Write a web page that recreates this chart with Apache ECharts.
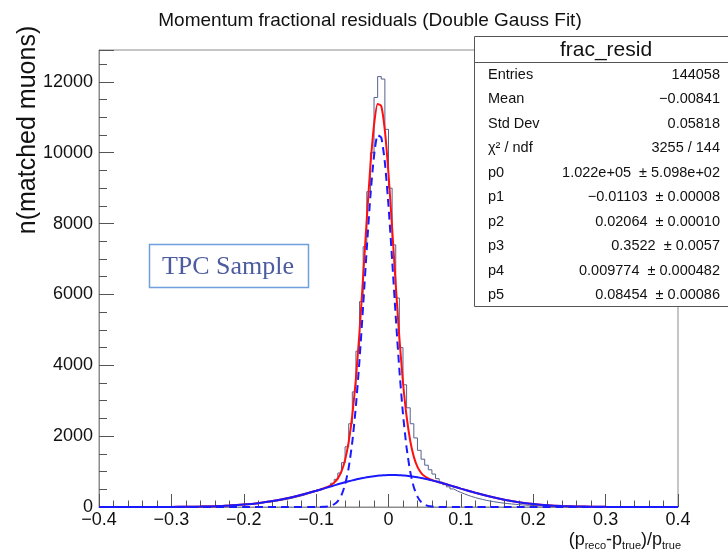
<!DOCTYPE html>
<html>
<head>
<meta charset="utf-8">
<script src="https://cdn.jsdelivr.net/npm/echarts@6/dist/echarts.min.js"></script>
<style>html,body{margin:0;padding:0;background:#fff}#c{width:728px;height:552px}</style>
</head>
<body>
<div id="c"></div>
<script>
// ---- data ----
const histMin = -0.4;
const binWidth = 0.005;
const histCounts = [
  0,1,0,1,1,2,1,2,2,3, 2,4,3,5,4,6,5,7,8,9,
  10,12,11,14,16,15,19,21,24,27, 30,33,37,41,46,50,56,62,68,75,
  80,88,97,107,117,128,140,152,166,182, 200,220,240,265,290,315,345,380,410,440,
  470,505,550,600,670,780,960,1250,1700,2350, 3250,4400,5800,7350,8900,10000,11560,12150,12080,10660,
  9000,7400,5900,4500,3450,2800,2350,1950,1600,1350, 1180,1050,930,800,700,630,570,510,455,410,
  370,330,296,265,238,213,190,170,152,136, 121,108,96,86,76,68,60,53,47,41,
  36,32,28,24,21,19,16,14,12,11, 9,8,7,6,6,5,4,4,3,3,
  3,2,2,2,1,2,1,1,1,1, 0,1,0,1,0,0,1,0,0,0
];
const fitX = [-0.40,-0.36,-0.32,-0.30,-0.28,-0.26,-0.24,-0.22,-0.20,-0.18,-0.16,-0.14,-0.12,-0.11,
  -0.100,-0.095,-0.090,-0.085,-0.080,-0.075,-0.070,-0.065,-0.060,-0.055,-0.050,-0.045,-0.040,-0.035,-0.030,-0.025,-0.020,-0.015,-0.010,-0.005,
  0.000,0.005,0.010,0.015,0.020,0.025,0.030,0.035,0.040,0.045,0.050,0.055,0.060,0.065,0.070,
  0.08,0.09,0.10,0.12,0.14,0.16,0.18,0.20,0.22,0.24,0.26,0.28,0.30,0.32,0.36,0.40];
const fitTotal = [0,0.2,1.3,2.9,6,12,22,40,68,109,168,247,345,400,
  459,490,524,563,613,688,807,1004,1328,1837,2591,3634,4962,6512,8136,9636,10782,11379,11322,10622,
  9408,7884,6277,4780,3522,2556,1869,1415,1132,965,866,805,763,730,699,
  640,579,518,400,294,205,137,87,52,30,16,8.5,4.2,2,0.4,0.1];
const fitNarrow = [0,0,0,0,0,0,0,0,0,0,0,0,0,0,
  0.7,2,5.5,14,34,78,167,335,631,1112,1840,2858,4163,5692,7297,8780,9911,10496,10430,9723,
  8504,6979,5373,3881,2630,1673,998,559,293,145,67,29,11.8,4.5,1.6,
  0.2,0,0,0,0,0,0,0,0,0,0,0,0,0,0,0];
const fitBroad = [0,0.2,1.3,2.9,6,12,22,40,68,109,168,247,345,400,
  458,488,518,549,579,610,640,669,697,725,751,776,799,820,839,856,871,883,892,899,
  904,905,904,899,892,883,871,856,839,820,799,776,751,725,697,
  640,579,518,400,294,205,137,87,52,30,16,8.5,4.2,2,0.4,0.1];
const yTicks = [0,2000,4000,6000,8000,10000,12000];
const statLabels = ['Entries','Mean','Std Dev','\u03C7\u00B2 / ndf','p0','p1','p2','p3','p4','p5'];
const statValues = ['144058','\u22120.00841','0.05818','3255 / 144','1.022e+05  \u00B1 5.098e+02',
  '\u22120.01103  \u00B1 0.00008','0.02064  \u00B1 0.00010','0.3522  \u00B1 0.0057',
  '0.009774  \u00B1 0.000482','0.08454  \u00B1 0.00086'];
const chartTitle = 'Momentum fractional residuals (Double Gauss Fit)';
const statTitle = 'frac_resid';
const sampleLabel = 'TPC Sample';
const yTitle = 'n(matched muons)';

// ---- build ----
const histData = histCounts.map((c, i) => [histMin + i * binWidth, c]);
histData.push([histMin + histCounts.length * binWidth, histCounts[histCounts.length - 1]]);
const pairs = arr => fitX.map((x, i) => [x, arr[i]]);

const FONT = '"Liberation Sans", Arial, sans-serif';
const chart = echarts.init(document.getElementById('c'), null, {renderer: 'canvas'});

const statGraphics = [];
statGraphics.push({type: 'rect', shape: {x: 474.5, y: 36.5, width: 270, height: 270},
  style: {fill: '#fff', stroke: '#555', lineWidth: 1}, z: 100});
statGraphics.push({type: 'line', shape: {x1: 474.5, y1: 62.5, x2: 728, y2: 62.5},
  style: {stroke: '#555', lineWidth: 1}, z: 101});
statGraphics.push({type: 'text', z: 101, style: {text: statTitle, x: 606, y: 50, font: '21px ' + FONT,
  fill: '#111', textAlign: 'center', textVerticalAlign: 'middle'}});
statLabels.forEach((l, i) => {
  const y = 74.5 + i * 24.5;
  statGraphics.push({type: 'text', z: 101, style: {text: l, x: 488, y: y, font: '14.5px ' + FONT,
    fill: '#111', textAlign: 'left', textVerticalAlign: 'middle'}});
  statGraphics.push({type: 'text', z: 101, style: {text: statValues[i], x: 720, y: y, font: '14.5px ' + FONT,
    fill: '#111', textAlign: 'right', textVerticalAlign: 'middle'}});
});

const option = {
  animation: false,
  backgroundColor: '#fff',
  title: {text: chartTitle, left: 365, top: 6, textAlign: 'center',
    textStyle: {fontFamily: FONT, fontSize: 19, fontWeight: 'normal', color: '#111'}},
  grid: {left: 99, right: 50, top: 50, bottom: 45, show: true, borderColor: '#8c8c8c', borderWidth: 1, backgroundColor: 'transparent'},
  xAxis: {
    type: 'value', min: -0.4, max: 0.4, interval: 0.1,
    axisLine: {show: true, onZero: false, lineStyle: {color: '#8c8c8c'}},
    axisTick: {show: true, inside: true, length: 13, lineStyle: {color: '#555'}},
    minorTick: {show: true, splitNumber: 5, length: 6.5, lineStyle: {color: '#555'}},
    splitLine: {show: false},
    axisLabel: {fontFamily: FONT, fontSize: 18, color: '#111', margin: 4,
      formatter: v => { const r = Math.round(v * 10) / 10; return r === 0 ? '0' : r.toFixed(1).replace('-', '\u2212'); }}
  },
  yAxis: {
    type: 'value', min: 0, max: 12900, interval: 2000,
    axisLine: {show: true, onZero: false, lineStyle: {color: '#8c8c8c'}},
    axisTick: {show: true, inside: true, length: 15, lineStyle: {color: '#555'}},
    minorTick: {show: true, splitNumber: 4, length: 8, lineStyle: {color: '#555'}},
    splitLine: {show: false},
    axisLabel: {fontFamily: FONT, fontSize: 18, color: '#111', margin: 6, showMaxLabel: false,
      formatter: v => (yTicks.indexOf(v) >= 0 ? String(v) : '')}
  },
  series: [
    {type: 'line', name: 'hist', data: histData, step: 'end', showSymbol: false,
      lineStyle: {color: '#55618f', width: 1}, z: 2},
    {type: 'line', name: 'total', data: pairs(fitTotal), showSymbol: false, smooth: 0.2,
      lineStyle: {color: '#ff1010', width: 2}, z: 3},
    {type: 'line', name: 'narrow', data: pairs(fitNarrow), showSymbol: false, smooth: 0.2,
      lineStyle: {color: '#1a1aff', width: 2, type: [8, 5]}, z: 4},
    {type: 'line', name: 'broad', data: pairs(fitBroad), showSymbol: false, smooth: 0.2,
      lineStyle: {color: '#1a1aff', width: 2}, z: 5}
  ],
  graphic: [
    {type: 'text', z: 50, rotation: Math.PI / 2, x: 28, y: 130,
      style: {text: yTitle, font: '25px ' + FONT, fill: '#111', textAlign: 'center', textVerticalAlign: 'middle'}},
    {type: 'rect', z: 50, shape: {x: 149.5, y: 244.5, width: 159, height: 43},
      style: {fill: '#fff', stroke: '#6f9fdc', lineWidth: 1.5}},
    {type: 'text', z: 51, style: {text: sampleLabel, x: 228, y: 267, font: '26px "Liberation Serif", "Times New Roman", serif',
      fill: '#4c5c9e', textAlign: 'center', textVerticalAlign: 'middle'}},
    {type: 'text', z: 50, style: {
      text: '(p{s|reco}-p{s|true})/p{s|true}', x: 681, y: 540, textAlign: 'right', textVerticalAlign: 'middle',
      font: '18px ' + FONT, fill: '#111',
      rich: {s: {fontSize: 11, fontFamily: FONT, fill: '#111', padding: [12, 0, 0, 0]}}}}
  ].concat(statGraphics)
};
chart.setOption(option);
</script>
</body>
</html>
